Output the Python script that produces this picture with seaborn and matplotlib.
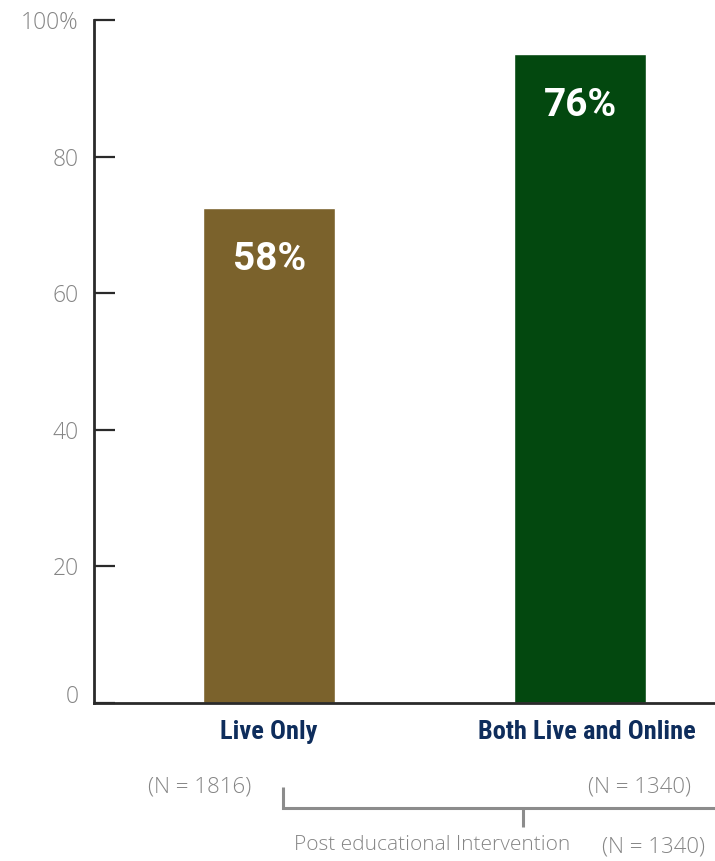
import matplotlib
matplotlib.use("Agg")
import matplotlib.pyplot as plt
import matplotlib.transforms as mtransforms
import seaborn as sns
import pandas as pd
from matplotlib.lines import Line2D
from matplotlib import font_manager
from matplotlib.font_manager import FontProperties

categories = ["Live Only", "Both Live and Online"]
values = [72.5, 95.0]
bar_labels = ["58%", "76%"]
n_labels = ["(N = 1816)", "(N = 1340)"]
bracket_label = "Post educational Intervention"
bracket_n = "(N = 1340)"
yticks = [0, 20, 40, 60, 80, 100]
ytick_labels = ["0", "20", "40", "60", "80", "100%"]
colors = ["#7B622C", "#03480F"]

sns.set_theme(style="white")
plt.rcParams["font.family"] = ["Open Sans", "DejaVu Sans"]


def weight_num(w):
    if isinstance(w, (int, float)):
        return w
    return {"bold": 700, "heavy": 800, "black": 900, "semibold": 600,
            "demibold": 600, "extra bold": 800}.get(str(w).lower(), 400)


cond = []
for f in font_manager.fontManager.ttflist:
    st = str(f.stretch).lower()
    if ("condensed" in st or "narrow" in f.name.lower()) and weight_num(f.weight) >= 600:
        cond.append(f)
pref = ["Roboto Condensed", "Liberation Sans Narrow", "Noto Sans", "Open Sans"]
cond.sort(key=lambda f: (pref.index(f.name) if f.name in pref else 99,
                         0 if "semi" not in str(f.stretch).lower() else 1,
                         abs(weight_num(f.weight) - 700)))
if cond:
    xfont = FontProperties(fname=cond[0].fname, size=19)
else:
    xfont = FontProperties(family="Roboto", weight="bold", size=15.5)

W, H = 715, 861
fig = plt.figure(figsize=(W / 100, H / 100), dpi=100)
ax = fig.add_axes([94 / W, 1 - 703 / H, (715 - 94) / W, (703 - 20) / H])

df = pd.DataFrame({"cat": categories, "val": values})
sns.barplot(data=df, x="cat", y="val", hue="cat", palette=colors,
            width=0.425, ax=ax, legend=False, saturation=1)

ax.set_xlim(-0.563, 1.434)
ax.set_ylim(0, 100)
ax.set_yticks(yticks)
ax.set_yticklabels(ytick_labels)
ax.set_xlabel("")
ax.set_ylabel("")
for s in ["top", "right"]:
    ax.spines[s].set_visible(False)
for s in ["left", "bottom"]:
    ax.spines[s].set_color("#2a2a2a")
    ax.spines[s].set_linewidth(2.0)
    ax.spines[s].set_zorder(5)

ax.tick_params(axis="y", direction="in", length=15, width=1.6, color="#2a2a2a",
               pad=11, labelsize=16.5, labelcolor="#858585", left=True)
ax.tick_params(axis="x", length=0, pad=12)
xlbls = ax.get_xticklabels()
for lbl in xlbls:
    lbl.set_fontproperties(xfont)
    lbl.set_color("#0E2D5C")
xlbls[1].set_transform(xlbls[1].get_transform() +
                       mtransforms.ScaledTranslation(7 / 100, 0, fig.dpi_scale_trans))
ylbls = ax.get_yticklabels()
ylbls[0].set_verticalalignment("baseline")
for lbl in ylbls:
    lbl.set_fontweight("light")

for p, t in zip(ax.patches, bar_labels):
    cx = p.get_x() + p.get_width() / 2
    ax.annotate(t, (cx, p.get_height()), xytext=(0, -37), textcoords="offset points",
                ha="center", va="center", color="white", fontsize=28,
                fontweight="bold", fontfamily=["Roboto", "DejaVu Sans"])


def fx(px):
    return px / W


def fy(py):
    return 1 - py / H


gray = "#858585"
fig.text(fx(200), fy(787), n_labels[0], ha="center", va="center", fontsize=16,
         color=gray, fontweight="light")
fig.text(fx(691), fy(787), n_labels[1], ha="right", va="center", fontsize=16,
         color=gray, fontweight="light")
fig.text(fx(432), fy(845), bracket_label, ha="center", va="center", fontsize=15,
         color=gray, fontweight="light")
fig.text(fx(705), fy(847), bracket_n, ha="right", va="center", fontsize=16,
         color=gray, fontweight="light")

lc = "#8c8c8c"
fig.add_artist(Line2D([fx(283), fx(283), fx(715)], [fy(787), fy(808), fy(808)],
                      color=lc, lw=2.2, solid_capstyle="butt", solid_joinstyle="miter"))
fig.add_artist(Line2D([fx(523), fx(523)], [fy(808), fy(827)], color=lc, lw=2.2,
                      solid_capstyle="butt"))

fig.savefig("out.png", dpi=100)
